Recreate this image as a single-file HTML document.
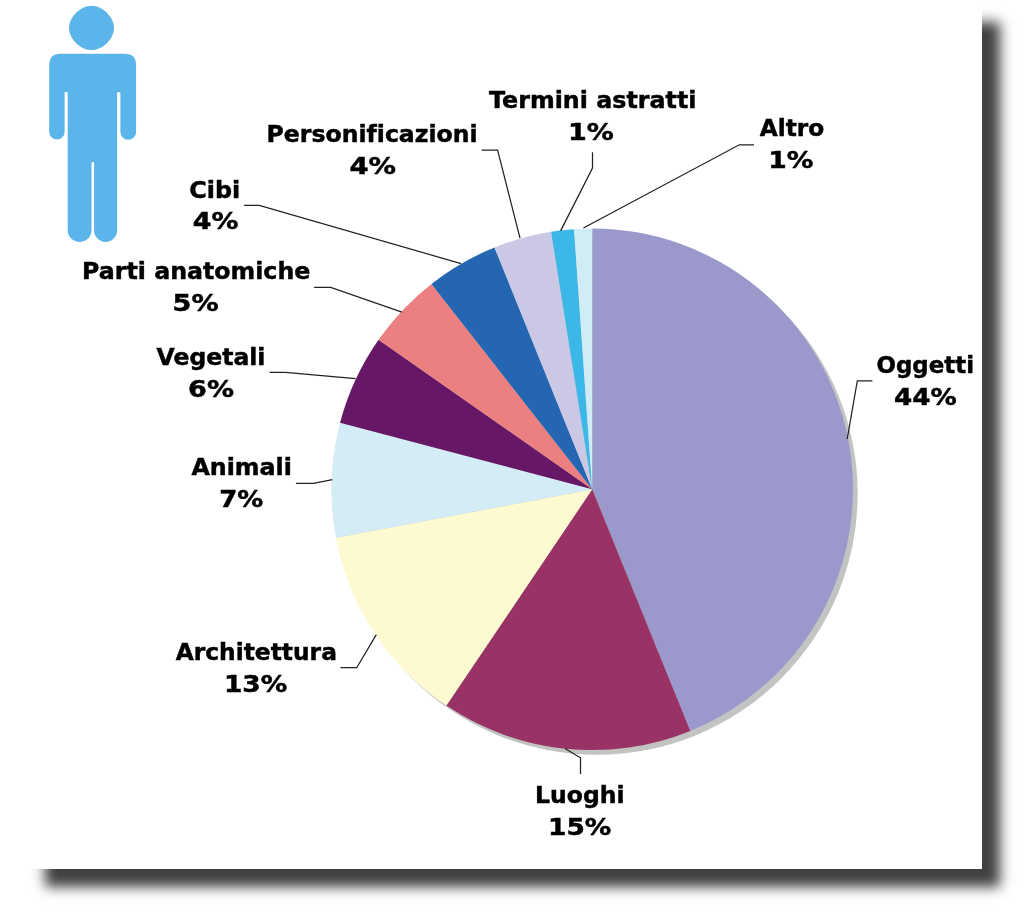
<!DOCTYPE html>
<html lang="it">
<head>
<meta charset="utf-8">
<title>Grafico a torta</title>
<style>
html,body{margin:0;padding:0;background:#fff;}
body{width:1024px;height:913px;position:relative;overflow:hidden;}
#box{position:absolute;left:27px;top:4px;width:955px;height:865px;background:#fff;box-shadow:17.5px 17.5px 12px rgba(0,0,0,0.75);}
svg{position:absolute;left:0;top:0;}
text{font-family:"DejaVu Sans","Liberation Sans",sans-serif;font-weight:bold;font-size:23px;fill:#000;font-variant-ligatures:none;font-feature-settings:'liga' 0;stroke:#000;stroke-width:0.45px;}
polyline{fill:none;stroke:#222;stroke-width:1.25;}
</style>
</head>
<body>
<div id="box"></div>
<svg width="1024" height="913" viewBox="0 0 1024 913">

<g fill="#5bb4ea">
<path d="M91.50,5.70 C102.53,5.70 114.00,17.02 114.00,27.90 C114.00,38.78 102.53,50.10 91.50,50.10 C80.47,50.10 69.00,38.78 69.00,27.90 C69.00,17.02 80.47,5.70 91.50,5.70 Z"/>
<path d="M60.6,53.8 H124.7 Q136.1,53.8 136.1,65.2 V131.9 A7.85,7.85 0 0 1 120.4,131.9 V93 A1.8,1.8 0 0 0 117.1,93 V230.2 A11.5,11.8 0 0 1 94.1,230.2 V163.3 A1.3,1.3 0 0 0 91.5,163.3 V230.2 A11.9,11.8 0 0 1 67.7,230.2 V93 A1.6,1.6 0 0 0 64.6,93 V131.9 A7.7,7.7 0 0 1 49.2,131.9 V65.2 Q49.2,53.8 60.6,53.8 Z"/>
</g>
<circle cx="596.8" cy="493.9" r="260.9" fill="#c2c4c2"/>
<g>
<path d="M592.20,489.30 L592.20,228.50 A260.80,260.80 0 0 1 690.32,730.94 Z" fill="#9b99cc"/>
<path d="M592.20,489.30 L690.32,730.94 A260.80,260.80 0 0 1 446.36,705.51 Z" fill="#993366"/>
<path d="M592.20,489.30 L446.36,705.51 A260.80,260.80 0 0 1 335.93,537.72 Z" fill="#fdf9d0"/>
<path d="M592.20,489.30 L335.93,537.72 A260.80,260.80 0 0 1 340.05,422.68 Z" fill="#d3ecf5"/>
<path d="M592.20,489.30 L340.05,422.68 A260.80,260.80 0 0 1 378.57,339.71 Z" fill="#661866"/>
<path d="M592.20,489.30 L378.57,339.71 A260.80,260.80 0 0 1 431.46,283.93 Z" fill="#ec8080"/>
<path d="M592.20,489.30 L431.46,283.93 A260.80,260.80 0 0 1 494.50,247.49 Z" fill="#2566b3"/>
<path d="M592.20,489.30 L494.50,247.49 A260.80,260.80 0 0 1 551.13,231.75 Z" fill="#cbc8e6"/>
<path d="M592.20,489.30 L551.13,231.75 A260.80,260.80 0 0 1 574.01,229.14 Z" fill="#3bb8e8"/>
<path d="M592.20,489.30 L574.01,229.14 A260.80,260.80 0 0 1 592.20,228.50 Z" fill="#d0ecf5"/>
</g>
<g>
<polyline points="872.4,380.8 857.3,380.8 847.2,439.0"/>
<polyline points="580.5,773.9 580.5,757.8 565.0,748.5"/>
<polyline points="340.5,667.7 356.7,667.7 376.3,634.6"/>
<polyline points="295.9,483.4 313.5,483.4 332.3,479.7"/>
<polyline points="269.6,372.3 285.3,372.3 355.6,378.6"/>
<polyline points="314.1,287.3 330.7,287.3 401.9,312.2"/>
<polyline points="244.1,205.3 259.3,205.3 461.0,263.6"/>
<polyline points="481.6,150.1 497.6,150.1 520.0,238.1"/>
<polyline points="592.5,152.3 592.5,168.0 560.6,230.9"/>
<polyline points="754.0,144.8 739.3,144.8 583.4,228.0"/>
</g>
<g>
<text x="876.5" y="372.5" textLength="97.5" lengthAdjust="spacingAndGlyphs">Oggetti</text>
<text x="894.0" y="405.1" textLength="62.7" lengthAdjust="spacingAndGlyphs">44%</text>
<text x="535.1" y="802.8" textLength="89.5" lengthAdjust="spacingAndGlyphs">Luoghi</text>
<text x="548.0" y="835.0" textLength="63.3" lengthAdjust="spacingAndGlyphs">15%</text>
<text x="175.7" y="660.1" textLength="161.2" lengthAdjust="spacingAndGlyphs">Architettura</text>
<text x="223.9" y="692.0" textLength="63.3" lengthAdjust="spacingAndGlyphs">13%</text>
<text x="191.4" y="474.9" textLength="100.5" lengthAdjust="spacingAndGlyphs">Animali</text>
<text x="219.3" y="506.6" textLength="44.0" lengthAdjust="spacingAndGlyphs">7%</text>
<text x="156.6" y="364.5" textLength="108.8" lengthAdjust="spacingAndGlyphs">Vegetali</text>
<text x="188.1" y="396.6" textLength="45.9" lengthAdjust="spacingAndGlyphs">6%</text>
<text x="82.1" y="278.9" textLength="228.2" lengthAdjust="spacingAndGlyphs">Parti anatomiche</text>
<text x="172.6" y="310.6" textLength="46.1" lengthAdjust="spacingAndGlyphs">5%</text>
<text x="189.3" y="197.9" textLength="51.0" lengthAdjust="spacingAndGlyphs">Cibi</text>
<text x="192.8" y="229.3" textLength="45.6" lengthAdjust="spacingAndGlyphs">4%</text>
<text x="266.6" y="142.1" textLength="211.0" lengthAdjust="spacingAndGlyphs">Personificazioni</text>
<text x="349.4" y="173.8" textLength="46.6" lengthAdjust="spacingAndGlyphs">4%</text>
<text x="489.0" y="108.0" textLength="207.4" lengthAdjust="spacingAndGlyphs">Termini astratti</text>
<text x="568.1" y="140.2" textLength="45.8" lengthAdjust="spacingAndGlyphs">1%</text>
<text x="759.7" y="136.2" textLength="64.5" lengthAdjust="spacingAndGlyphs">Altro</text>
<text x="768.2" y="168.4" textLength="45.1" lengthAdjust="spacingAndGlyphs">1%</text>
</g>
</svg>
</body>
</html>
